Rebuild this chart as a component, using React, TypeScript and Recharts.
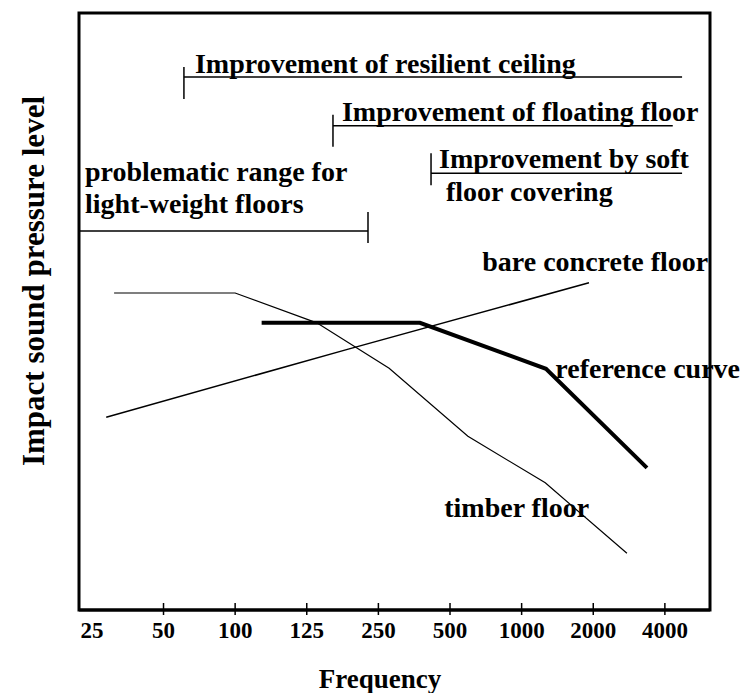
import { LineChart, Line, XAxis, YAxis, ReferenceLine, ReferenceArea, ReferenceDot } from "recharts";

const FONT = '"Liberation Serif", "Times New Roman", serif';
const PX = 5.97; // px per level unit (plot 597px tall, domain 0..100)

// octave band index: 0 = 25 Hz ... 8 = 4000 Hz
const bandLabels = ["25", "50", "100", "125", "250", "500", "1000", "2000", "4000"];
const bandTicks = [0, 1, 2, 3, 4, 5, 6, 7, 8];

const timberBand = [0.31, 2.0, 3.14, 4.15, 5.25, 6.33, 7.47];
const timberLevel = [53.1, 53.1, 48.1, 40.5, 29.1, 21.3, 9.5];

const concreteBand = [0.2, 3.58, 6.94];
const concreteLevel = [32.3, 43.7, 54.8];

const referenceBand = [2.37, 4.58, 6.34, 7.75];
const referenceLevel = [48.1, 48.1, 40.4, 23.8];

// frequency ranges of the improvements
const rangeText = [
  ["Improvement of resilient ceiling"],
  ["Improvement of floating floor"],
  ["Improvement by soft", " floor covering"],
  ["problematic range for", "light-weight floors"],
];
const rangeFrom = [1.285, 3.366, 4.735, -0.18];
const rangeTo = [8.24, 8.11, 8.24, 3.855];
const rangeLevel = [89.3, 81.1, 73.15, 63.5];

// curve names and where they sit
const curveNames = ["bare concrete floor", "reference curve", "timber floor"];
const curveNameBand = [5.45, 6.47, 4.92];
const curveNameLevel = [56.8, 38.9, 15.6];

const toPoints = (xs: number[], ys: number[]) => xs.map((x, i) => ({ x, y: ys[i] }));
const timberData = toPoints(timberBand, timberLevel);
const concreteData = toPoints(concreteBand, concreteLevel);
const referenceData = toPoints(referenceBand, referenceLevel);

// bracket ticks: which end, px up, px down; text placement (dx, baseline dy per line)
const bracketLayout = [
  { at: "from", up: 10, down: 22, dx: 11, dy: [-4] },
  { at: "from", up: 11, down: 21, dx: 9, dy: [-5] },
  { at: "from", up: 20, down: 12, dx: 8, dy: [-5, 28] },
  { at: "to", up: 19, down: 12, dx: 6, dy: [-50, -18] },
];

const txt = { fontFamily: FONT, fontWeight: "bold" as const, fontSize: 28, fill: "#000" };

function BandTick(props: any) {
  const { x, y, payload } = props;
  const i = payload.value;
  return (
    <g>
      {i > 0 && <line x1={x} x2={x} y1={y - 7} y2={y + 5} stroke="#000" strokeWidth={1.5} />}
      <text x={x} y={y + 28} textAnchor="middle" fontFamily={FONT} fontWeight="bold" fontSize={23} fill="#000">
        {bandLabels[i]}
      </text>
    </g>
  );
}

export default function App() {
  return (
    <div style={{ position: "absolute", left: 0, top: 0, background: "#fff" }}>
      <LineChart width={740} height={693} margin={{ top: 13, right: 30, bottom: 43, left: 0 }}>
        <XAxis
          type="number"
          dataKey="x"
          domain={[-0.18, 8.63]}
          ticks={bandTicks}
          interval={0}
          allowDataOverflow
          height={40}
          tickSize={0}
          tickMargin={0}
          tickLine={false}
          axisLine={{ stroke: "#000", strokeWidth: 3 }}
          tick={<BandTick />}
          label={(p: any) => (
            <text x={p.viewBox.x + 301} y={p.viewBox.y + 78} textAnchor="middle" {...txt} fontSize={27}>
              Frequency
            </text>
          )}
        />
        <YAxis
          type="number"
          domain={[0, 100]}
          width={79}
          axisLine={false}
          tickLine={false}
          tick={false}
          label={(p: any) => {
            const cx = p.viewBox.x + 44;
            const cy = p.viewBox.y + 268;
            return (
              <text x={cx} y={cy} transform={`rotate(-90 ${cx} ${cy})`} textAnchor="middle" {...txt} fontSize={31}>
                Impact sound pressure level
              </text>
            );
          }}
        />
        <ReferenceArea x1={-0.18} x2={8.63} y1={0} y2={100} fill="none" stroke="#000" strokeWidth={3} />

        {rangeText.map((lines, k) => {
          const lay = bracketLayout[k];
          const tx = lay.at === "from" ? rangeFrom[k] : rangeTo[k];
          return [
            <ReferenceLine
              key={`h${k}`}
              segment={[
                { x: rangeFrom[k], y: rangeLevel[k] },
                { x: rangeTo[k], y: rangeLevel[k] },
              ]}
              stroke="#000"
              strokeWidth={1.5}
            />,
            <ReferenceLine
              key={`v${k}`}
              segment={[
                { x: tx, y: rangeLevel[k] + lay.up / PX },
                { x: tx, y: rangeLevel[k] - lay.down / PX },
              ]}
              stroke="#000"
              strokeWidth={1.5}
            />,
            <ReferenceDot
              key={`t${k}`}
              x={rangeFrom[k]}
              y={rangeLevel[k]}
              r={0}
              stroke="none"
              fill="none"
              label={(p: any) => (
                <g>
                  {lines.map((s, j) => (
                    <text key={j} x={p.viewBox.x + lay.dx} y={p.viewBox.y + lay.dy[j]} {...txt} style={{ whiteSpace: "pre" }}>
                      {s}
                    </text>
                  ))}
                </g>
              )}
            />,
          ];
        })}

        <Line data={concreteData} dataKey="y" stroke="#000" strokeWidth={1.5} dot={false} isAnimationActive={false} />
        <Line data={timberData} dataKey="y" stroke="#000" strokeWidth={1.2} dot={false} isAnimationActive={false} />
        <Line data={referenceData} dataKey="y" stroke="#000" strokeWidth={4} dot={false} isAnimationActive={false} />

        {curveNames.map((name, k) => (
          <ReferenceDot
            key={name}
            x={curveNameBand[k]}
            y={curveNameLevel[k]}
            r={0}
            stroke="none"
            fill="none"
            label={(p: any) => (
              <text x={p.viewBox.x} y={p.viewBox.y} {...txt}>
                {name}
              </text>
            )}
          />
        ))}
      </LineChart>
    </div>
  );
}
